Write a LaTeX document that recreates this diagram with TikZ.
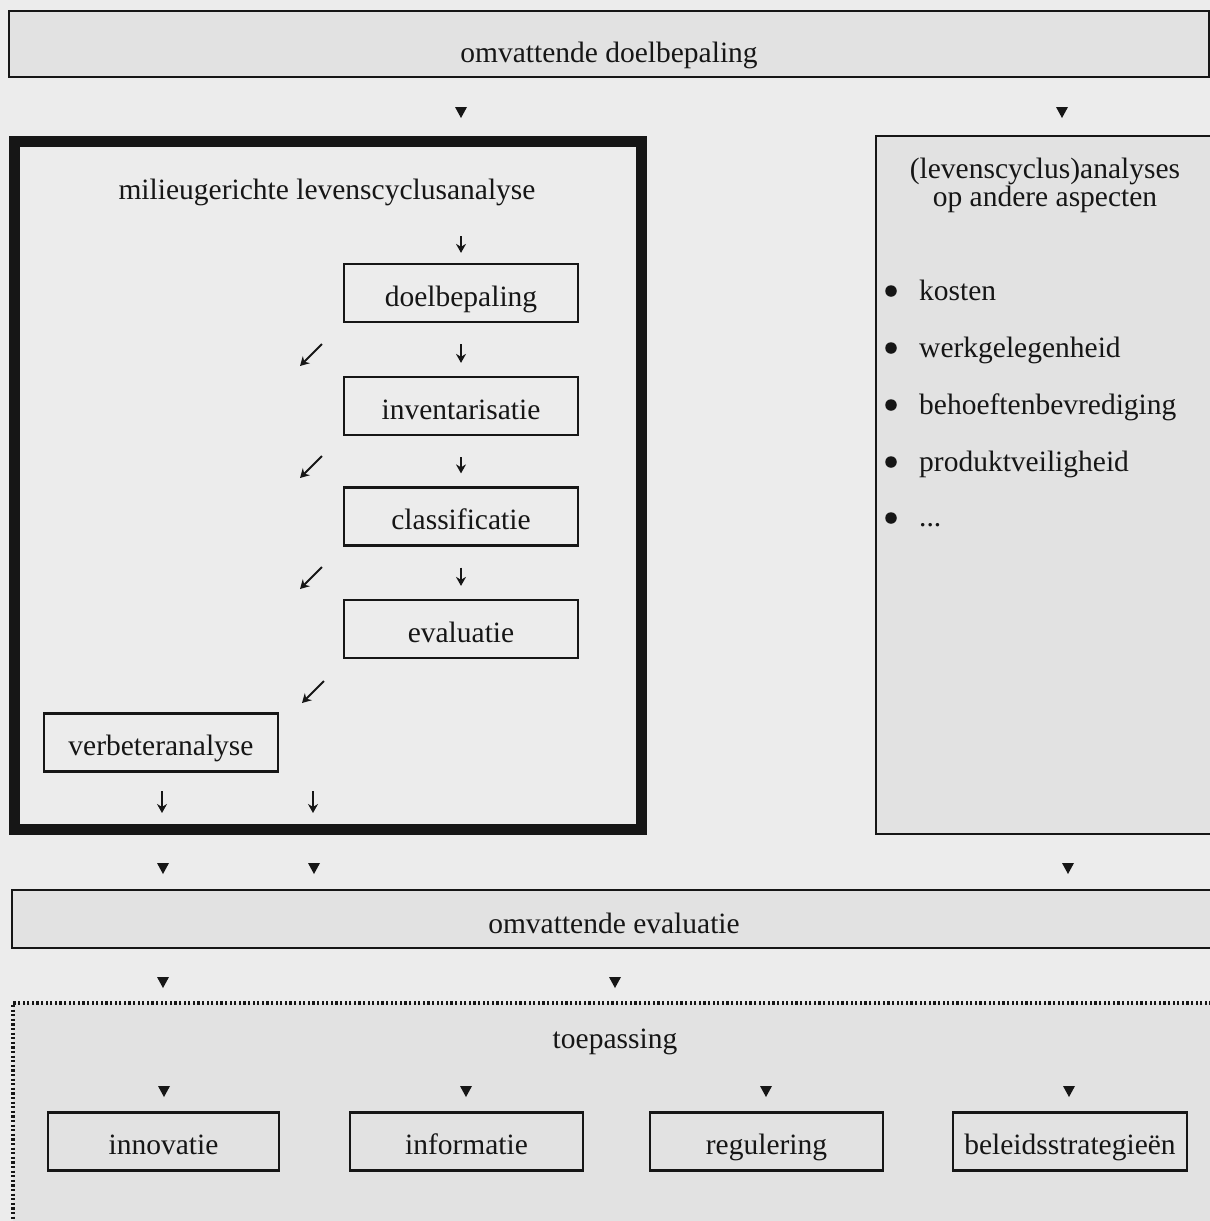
\documentclass[tikz,border=0pt]{standalone}
\usepackage{fontspec}
\setmainfont{Liberation Serif}
\usetikzlibrary{arrows.meta}

\definecolor{paper}{RGB}{236,236,236}
\definecolor{screen}{RGB}{226,226,226}
\definecolor{ink}{RGB}{22,22,22}

\begin{document}
\begin{tikzpicture}[x=1pt, y=-1pt,
  lbl/.style={font=\fontsize{29.5}{28}\selectfont, text=ink, inner sep=0pt},
  box/.style={lbl, draw=ink, line width=2.2pt, text height=27pt, text depth=1pt,
    minimum width=234pt, minimum height=58pt},
  widebox/.style={lbl, draw=ink, fill=screen, line width=2.4pt},
  lcaframe/.style={draw=ink, line width=11pt, inner sep=0pt},
  sidebox/.style={draw=ink, fill=screen, line width=2pt, inner sep=0pt},
  dotbox/.style={draw=ink, fill=screen, line width=3.2pt, dash pattern=on 2.2pt off 2.4pt, inner sep=0pt},
  bullet/.style={circle, fill=ink, inner sep=0pt, minimum size=11.5pt},
  sarrow/.style={draw=ink, line width=1.8pt, -{Stealth[length=9pt, width=10pt]}},
  gap/.style={shorten <=21pt, shorten >=13pt},
  tri/.pic={\fill[ink] (-6,-5) -- (6,-5) -- (0,6) -- cycle;}
]
\useasboundingbox (0,0) rectangle (1210,1221);
\fill[paper] (0,0) rectangle (1210,1221);
\clip (0,0) rectangle (1210,1221);

% overall goal
\node[widebox, minimum width=1200pt, minimum height=66pt, text height=38pt, text depth=1pt]
  (goal) at (609,44) {omvattende doelbepaling};
\pic at (461,112) {tri};
\pic at (1062,112) {tri};

% environmental life cycle analysis
\node[lcaframe, minimum width=627pt, minimum height=688.5pt] (lca) at (328,485.25) {};
\node[lbl, anchor=base] (lcatitle) at (327,199) {milieugerichte levenscyclusanalyse};

\node[box] (doel)  at (461,293)   {doelbepaling};
\node[box] (inv)   at (461,406)   {inventarisatie};
\node[box] (clas)  at (461,516.5) {classificatie};
\node[box] (evalu) at (461,629)   {evaluatie};
\node[box] (verb)  at (161,742.5) {verbeteranalyse};

\coordinate (a0) at (461,236);
\draw[sarrow] (a0) -- ([yshift=10pt]doel.north);
\draw[sarrow, gap] (doel) -- (inv);
\draw[sarrow, gap] (inv) -- (clas);
\draw[sarrow, gap] (clas) -- (evalu);

% feedback towards the improvement analysis
\coordinate (d1s) at (322,344); \coordinate (d1e) at (300,366);
\coordinate (d2s) at (322,456); \coordinate (d2e) at (300,478);
\coordinate (d3s) at (322,567); \coordinate (d3e) at (300,589);
\coordinate (d4s) at (324,681); \coordinate (d4e) at (302,703);
\draw[sarrow] (d1s) -- (d1e);
\draw[sarrow] (d2s) -- (d2e);
\draw[sarrow] (d3s) -- (d3e);
\draw[sarrow] (d4s) -- (d4e);

\coordinate (v1s) at (162,791); \coordinate (v1e) at (162,813);
\coordinate (v2s) at (313,791); \coordinate (v2e) at (313,813);
\draw[sarrow] (v1s) -- (v1e);
\draw[sarrow] (v2s) -- (v2e);

% analyses on other aspects
\node[sidebox, minimum width=340pt, minimum height=698pt] (other) at (1046,485) {};
\node[lbl, anchor=base] (othert1) at (1045,178) {(levenscyclus)analyses};
\node[lbl, anchor=base] (othert2) at (1045,206) {op andere aspecten};

\node[bullet] (b1) at (891,291) {};
\node[bullet] (b2) at (891,348) {};
\node[bullet] (b3) at (891,405) {};
\node[bullet] (b4) at (891,462) {};
\node[bullet] (b5) at (891,518) {};
\node[lbl, anchor=base west] (i1) at (919,300) {kosten};
\node[lbl, anchor=base west] (i2) at (919,357) {werkgelegenheid};
\node[lbl, anchor=base west] (i3) at (919,414) {behoeftenbevrediging};
\node[lbl, anchor=base west] (i4) at (919,471) {produktveiligheid};
\node[lbl, anchor=base west] (i5) at (919,526) {...};

\pic at (163,868) {tri};
\pic at (314,868) {tri};
\pic at (1068,868) {tri};

% overall evaluation
\node[widebox, minimum width=1204pt, minimum height=58pt, text height=29pt, text depth=1pt]
  (oeval) at (614,919) {omvattende evaluatie};
\pic at (163,982) {tri};
\pic at (615,982) {tri};

% application
\node[dotbox, minimum width=1203pt, minimum height=237pt] (app) at (614.5,1121.5) {};
\node[lbl, anchor=base] (apptitle) at (615,1048) {toepassing};
\pic at (164,1091) {tri};
\pic at (466,1091) {tri};
\pic at (766,1091) {tri};
\pic at (1069,1091) {tri};

\node[box, minimum width=231pt] (inno) at (163.5,1141.5) {innovatie};
\node[box, minimum width=233pt] (info) at (466.5,1141.5) {informatie};
\node[box, minimum width=233pt] (regu) at (766.5,1141.5) {regulering};
\node[box, minimum width=234pt] (beleid) at (1070,1141.5) {beleidsstrategieën};
\end{tikzpicture}
\end{document}
